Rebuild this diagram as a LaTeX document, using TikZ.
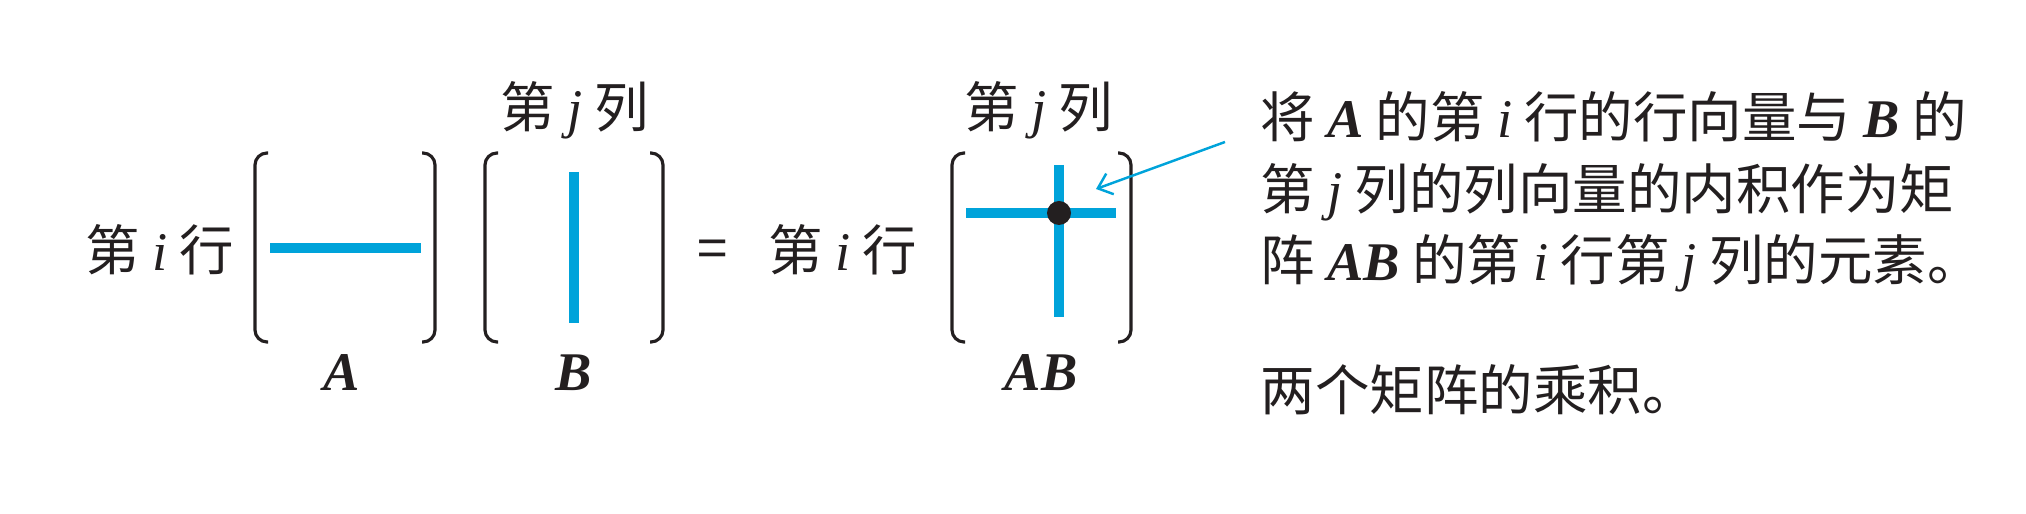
\documentclass[tikz,border=0pt]{standalone}
\usepackage{fontspec}
\setmainfont{Noto Sans CJK SC}
\newfontfamily\tnr{Liberation Serif}
\usetikzlibrary{arrows.meta}
\definecolor{vecblue}{RGB}{0,163,218}
\definecolor{ink}{RGB}{35,31,32}
\newcommand\vi{{\tnr\itshape i}}
\newcommand\vj{{\tnr\itshape j}}
\newcommand\mA{{\tnr\bfseries\itshape A}}
\newcommand\mB{{\tnr\bfseries\itshape B}}
\tikzset{
  bracket/.style={ink,line width=0.9pt,rounded corners=0.12cm},
  vec/.style={vecblue,line width=2.8pt},
  lbl/.style={ink,font=\fontsize{15.5}{20}\selectfont,inner sep=0pt,anchor=base},
  txt/.style={lbl,anchor=base west},
}
\begin{document}
\begin{tikzpicture}[x=1cm,y=1cm]
  \useasboundingbox (0,0) rectangle (20.26,5.14);
  % brackets of A, B and AB
  \foreach \l/\r in {2.55/4.35,4.85/6.63,9.52/11.31} {
    \draw[bracket] ({\l+0.13},3.61) -- (\l,3.61) -- (\l,1.72) -- ({\l+0.13},1.72);
    \draw[bracket] ({\r-0.13},3.61) -- (\r,3.61) -- (\r,1.72) -- ({\r-0.13},1.72);
  }
  % row and column vectors
  \draw[vec] (2.70,2.66) -- (4.21,2.66);
  \draw[vec] (5.74,3.42) -- (5.74,1.91);
  \draw[vec] (9.66,3.01) -- (11.16,3.01);
  \draw[vec] (10.59,3.49) -- (10.59,1.97);
  \coordinate (E) at (10.59,3.01);
  \fill[ink] (E) circle[radius=0.12];
  % labels
  \node[lbl] (rowA) at (1.60,2.43) {第 \vi\ 行};
  \node[lbl] (colB) at (5.75,3.86) {第 \vj\ 列};
  \node[lbl] (nameA) at (3.42,1.23) {\mA};
  \node[lbl] (nameB) at (5.74,1.23) {\mB};
  \node[lbl] (eq) at (7.13,2.45) {=};
  \node[lbl] (rowAB) at (8.43,2.43) {第 \vi\ 行};
  \node[lbl] (colAB) at (10.39,3.86) {第 \vj\ 列};
  \node[lbl] (nameAB) at (10.41,1.23) {\mA\mB};
  % explanation
  \node[txt] (line1) at (12.60,3.76) {将 \mA\ 的第 \vi\ 行的行向量与 \mB\ 的};
  \node[txt] (line2) at (12.60,3.045) {第 \vj\ 列的列向量的内积作为矩};
  \node[txt] (line3) at (12.60,2.33) {阵 \mA\mB\ 的第 \vi\ 行第 \vj\ 列的元素。};
  \node[txt] (caption) at (12.60,1.03) {两个矩阵的乘积。};
  \coordinate (from) at (12.25,3.72);
  \coordinate (tip) at (10.96,3.25);
  \draw[vecblue,line width=0.7pt,-{Straight Barb[length=1.3mm,width=2.2mm]}] (from) -- (tip);
\end{tikzpicture}
\end{document}
